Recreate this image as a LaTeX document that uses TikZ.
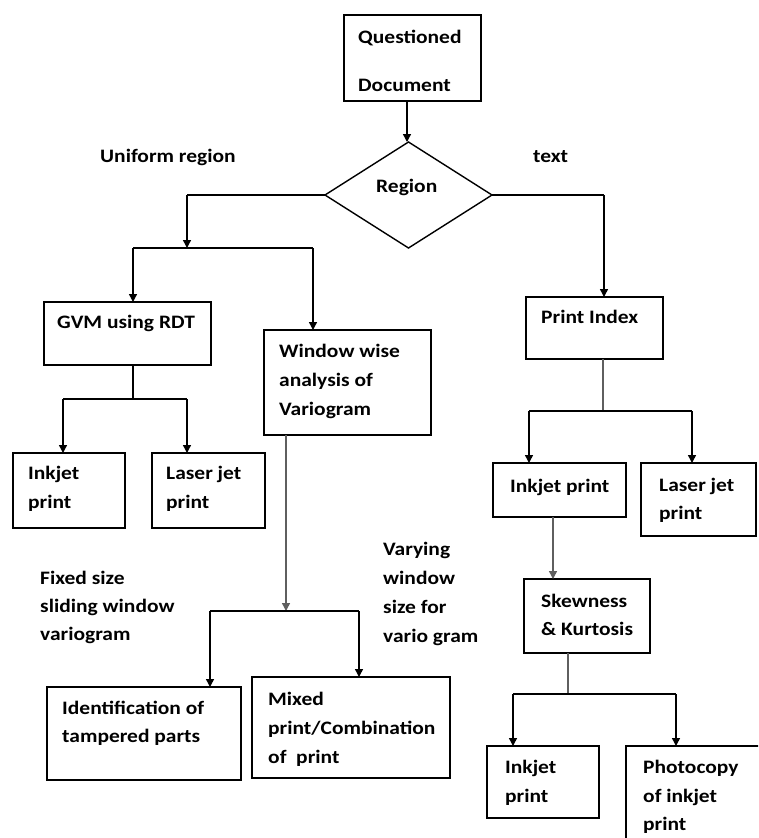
\documentclass[tikz,border=0pt]{standalone}
\usepackage{fontspec}
\setmainfont{Carlito}[FakeStretch=1.13]
\usetikzlibrary{arrows.meta,shapes.geometric}
\definecolor{lgray}{RGB}{95,95,95}
\tikzset{
  box/.style={draw, line width=1.5pt, anchor=north west, inner sep=0pt, outer sep=0pt},
  lbl/.style={anchor=base west, inner sep=0pt, font=\bfseries\fontsize{19}{23}\selectfont},
  wire/.style={line width=1.4pt},
  arr/.style={wire, -{Triangle[length=8pt,width=8pt]}},
}
\begin{document}
\begin{tikzpicture}[x=1pt,y=-1pt]
\useasboundingbox (0,0) rectangle (758,838);
\clip (0,0) rectangle (758,838);
% boxes
\node[box, minimum width=137pt, minimum height=86pt] (qd) at (344,15) {};
\node[draw, diamond, line width=1.4pt, minimum width=167pt, minimum height=106pt, inner sep=0pt, outer sep=0pt] (reg) at (408.5,195) {};
\node[box, minimum width=167pt, minimum height=63pt] (gvm) at (44,302) {};
\node[box, minimum width=167pt, minimum height=105pt] (win) at (264,330) {};
\node[box, minimum width=137pt, minimum height=62pt] (pi) at (526,297) {};
\node[box, minimum width=112pt, minimum height=75pt] (ik1) at (13,453) {};
\node[box, minimum width=113pt, minimum height=75pt] (lj1) at (152,453) {};
\node[box, minimum width=133pt, minimum height=54pt] (ik2) at (493,463) {};
\node[box, minimum width=115pt, minimum height=73pt] (lj2) at (641,463) {};
\node[box, minimum width=126pt, minimum height=74pt] (sk) at (524,579) {};
\node[box, minimum width=194pt, minimum height=93pt] (idf) at (47,687) {};
\node[box, minimum width=198pt, minimum height=101pt] (mix) at (252,677) {};
\node[box, minimum width=112pt, minimum height=72pt] (ik3) at (487,746) {};
\node[box, minimum width=200pt, minimum height=150pt] (pc) at (626,746) {};
% texts
\node[lbl] (t1) at (358,43) {Questioned};
\node[lbl] (t2) at (358,91) {Document};
\node[lbl] (t3) at (100,162) {Uniform region};
\node[lbl] (t4) at (533,162) {text};
\node[lbl] (t5) at (376,192) {Region};
\node[lbl] (t6) at (57,328) {GVM using RDT};
\node[lbl] (t7) at (279,357) {Window wise};
\node[lbl] (t8) at (279,386) {analysis of};
\node[lbl] (t9) at (279,415) {Variogram};
\node[lbl] (t10) at (541,323) {Print Index};
\node[lbl] (t11) at (28,479) {Inkjet};
\node[lbl] (t12) at (28,508) {print};
\node[lbl] (t13) at (166,479) {Laser jet};
\node[lbl] (t14) at (166,508) {print};
\node[lbl] (t15) at (510,492) {Inkjet print};
\node[lbl] (t16) at (659,491) {Laser jet};
\node[lbl] (t17) at (659,519) {print};
\node[lbl] (t18) at (383,555) {Varying};
\node[lbl] (t19) at (383,584) {window};
\node[lbl] (t20) at (383,613) {size for};
\node[lbl] (t21) at (383,642) {vario gram};
\node[lbl] (t22) at (40,584) {Fixed size};
\node[lbl] (t23) at (40,612) {sliding window};
\node[lbl] (t24) at (40,640) {variogram};
\node[lbl] (t25) at (541,607) {Skewness};
\node[lbl] (t26) at (541,635) {\& Kurtosis};
\node[lbl] (t27) at (62,714) {Identification of};
\node[lbl] (t28) at (62,742) {tampered parts};
\node[lbl] (t29) at (268,705) {Mixed};
\node[lbl] (t30) at (268,734) {print/Combination};
\node[lbl] (t31) at (268,763) {of\ \ print};
\node[lbl] (t32) at (505,773) {Inkjet};
\node[lbl] (t33) at (505,802) {print};
\node[lbl] (t34) at (643,773) {Photocopy};
\node[lbl] (t35) at (643,802) {of inkjet};
\node[lbl] (t36) at (643,830) {print};
% junction coordinates
\coordinate (q) at (407,0);
\coordinate (jL) at (187,195);
\coordinate (barA) at (133,248);
\coordinate (barB) at (313,248);
\coordinate (jR) at (604,195);
\coordinate (gs) at (133,399);
\coordinate (gA) at (63,399);
\coordinate (gB) at (187,399);
\coordinate (ws) at (286,611);
\coordinate (wA) at (210,611);
\coordinate (wB) at (359,611);
\coordinate (ps) at (603,411);
\coordinate (pA) at (529,411);
\coordinate (pB) at (692,411);
\coordinate (k1) at (553,0);
\coordinate (ss) at (568,694);
\coordinate (sA) at (513,694);
\coordinate (sB) at (676,694);
% connectors
\draw[arr] (q |- qd.south) -- (q |- reg.north);
\draw[wire] (reg.west) -- (jL);
\draw[arr] (jL) -- (jL |- barA);
\draw[wire] (barA) -- (barB);
\draw[arr] (barA) -- (barA |- gvm.north);
\draw[arr] (barB) -- (barB |- win.north);
\draw[wire] (reg.east) -- (jR);
\draw[arr] (jR) -- (jR |- pi.north);
\draw[wire] (gs |- gvm.south) -- (gs);
\draw[wire] (gA) -- (gB);
\draw[arr] (gA) -- (gA |- ik1.north);
\draw[arr] (gB) -- (gB |- lj1.north);
\draw[arr, draw=lgray] (ws |- win.south) -- (ws);
\draw[wire] (wA) -- (wB);
\draw[arr] (wA) -- (wA |- idf.north);
\draw[arr] (wB) -- (wB |- mix.north);
\draw[wire, draw=lgray] (ps |- pi.south) -- (ps);
\draw[wire] (pA) -- (pB);
\draw[arr] (pA) -- (pA |- ik2.north);
\draw[arr] (pB) -- (pB |- lj2.north);
\draw[arr, draw=lgray] (k1 |- ik2.south) -- (k1 |- sk.north);
\draw[wire, draw=lgray] (ss |- sk.south) -- (ss);
\draw[wire] (sA) -- (sB);
\draw[arr] (sA) -- (sA |- ik3.north);
\draw[arr] (sB) -- (sB |- pc.north);
\end{tikzpicture}
\end{document}
